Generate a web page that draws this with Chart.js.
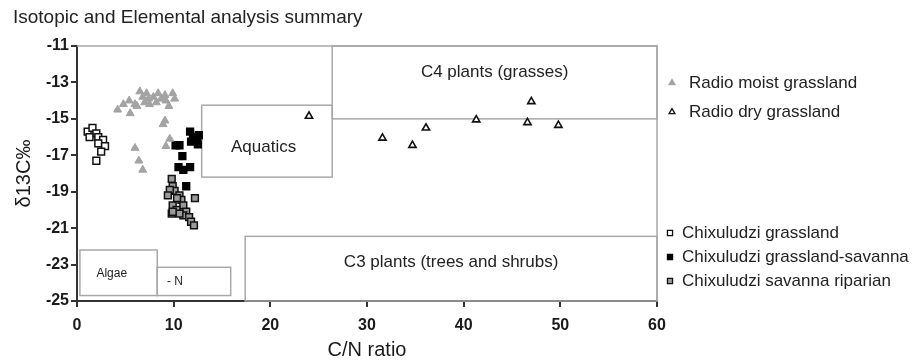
<!DOCTYPE html>
<html>
<head>
<meta charset="utf-8">
<script src="https://cdn.jsdelivr.net/npm/chart.js@4"></script>
<style>
  html,body{margin:0;padding:0;background:#fff;}
  canvas{display:block;}
</style>
</head>
<body>
<canvas id="c" width="918" height="362"></canvas>
<script>
// axis ticks
const xTicks = [0,10,20,30,40,50,60];
const yTicks = [-25,-23,-21,-19,-17,-15,-13,-11];

// Radio moist grassland
const moistX = [4.2,4.8,5.4,6.0,6.5,6.8,7.2,7.4,7.5,7.9,8.2,8.7,9.1,9.2,9.9,10.1,5.5,9.1,8.9,9.6,9.2,6.0,6.4,6.8,6.2,8.4,9.5,7.0];
const moistY = [-14.5,-14.2,-14.0,-14.2,-13.5,-13.8,-13.6,-13.9,-14.2,-13.8,-14.1,-13.9,-13.7,-14.0,-13.6,-13.9,-14.7,-15.1,-15.3,-16.1,-16.5,-16.6,-17.3,-17.8,-14.3,-13.6,-14.3,-14.1];
// Radio dry grassland
const dryX = [24.0,31.6,34.7,36.1,41.3,47.0,46.6,49.8];
const dryY = [-14.85,-16.05,-16.45,-15.5,-15.05,-14.05,-15.2,-15.35];
// Chixuludzi grassland
const grassX = [1.1,1.6,2.0,1.3,2.2,2.7,2.2,2.9,2.5,2.0];
const grassY = [-15.7,-15.5,-15.8,-16.0,-16.0,-16.15,-16.35,-16.5,-16.8,-17.3];
// Chixuludzi grassland-savanna
const savX = [11.7,12.0,12.4,12.5,11.8,10.2,10.6,10.9,10.5,11.0,11.7,11.3,12.6];
const savY = [-15.7,-16.0,-16.1,-16.4,-16.25,-16.45,-16.45,-17.05,-17.65,-17.8,-17.65,-18.7,-15.9];
// Chixuludzi savanna riparian
const ripX = [9.8,9.9,10.1,10.6,10.8,9.9,11.0,10.3,11.3,11.0,11.6,11.8,12.1,12.2,9.6,9.8,10.6,10.35,9.4,9.9];
const ripY = [-18.3,-18.7,-18.95,-19.2,-19.45,-19.75,-19.75,-20.0,-20.1,-20.3,-20.4,-20.65,-20.85,-19.35,-18.9,-20.2,-20.2,-19.35,-19.2,-20.1];

// reference regions [x0, x1, yBottom, yTop]
const regionNames = ['C4 plants (grasses)','Aquatics','C3 plants (trees and shrubs)','Algae','- N'];
const regionBounds = [
  [26.4,60,-15,-11],
  [12.9,26.4,-18.2,-14.25],
  [17.4,60,-25,-21.45],
  [0.3,8.3,-24.7,-22.2],
  [8.3,15.9,-24.7,-23.15]
];
// label anchor points (data units)
const regionLabelAt = [[43.2,-12.45],[19.3,-16.55],[38.7,-22.85],[3.6,-23.5],[9.3,-23.95]];

const legendNames = ['Radio moist grassland','Radio dry grassland','Chixuludzi grassland','Chixuludzi grassland-savanna','Chixuludzi savanna riparian'];

const pts = (xs,ys)=>xs.map((x,i)=>({x, y:ys[i]}));
const FONT = '"Liberation Sans", Arial, sans-serif';

const styles = [
  {pointStyle:'triangle', radius:4.6, backgroundColor:'#a3a3a3', borderColor:'#a3a3a3', borderWidth:1},
  {pointStyle:'triangle', radius:4.2, backgroundColor:'#fff', borderColor:'#111', borderWidth:1.6},
  {pointStyle:'rect', radius:4.8, backgroundColor:'#fff', borderColor:'#111', borderWidth:1.5},
  {pointStyle:'rect', radius:4.8, backgroundColor:'#000', borderColor:'#000', borderWidth:1.5},
  {pointStyle:'rect', radius:4.8, backgroundColor:'#9a9a9a', borderColor:'#111', borderWidth:1.5},
];
const series = [pts(moistX,moistY), pts(dryX,dryY), pts(grassX,grassY), pts(savX,savY), pts(ripX,ripY)];

const overlay = {
  id:'overlay',
  beforeDatasetsDraw(chart){
    const {ctx, scales:{x,y}} = chart;
    ctx.save();
    ctx.strokeStyle = '#a8a8a8';
    ctx.lineWidth = 1.5;
    // frame top and right
    ctx.beginPath();
    ctx.moveTo(x.getPixelForValue(0), y.getPixelForValue(-11));
    ctx.lineTo(x.getPixelForValue(60), y.getPixelForValue(-11));
    ctx.lineTo(x.getPixelForValue(60), y.getPixelForValue(-25));
    ctx.stroke();
    regionBounds.forEach(b=>{
      const l = x.getPixelForValue(b[0]), r = x.getPixelForValue(b[1]);
      const bt = y.getPixelForValue(b[2]), t = y.getPixelForValue(b[3]);
      ctx.strokeRect(l, t, r-l, bt-t);
    });
    ctx.fillStyle = '#222';
    ctx.textBaseline = 'middle';
    regionNames.forEach((n,i)=>{
      const small = i>=3;
      ctx.font = (small ? '12px ' : '17px ') + FONT;
      ctx.textAlign = i===4 ? 'left' : 'center';
      ctx.fillText(n, x.getPixelForValue(regionLabelAt[i][0]), y.getPixelForValue(regionLabelAt[i][1]));
    });
    ctx.restore();
  },
  afterDraw(chart){
    const {ctx} = chart;
    ctx.save();
    ctx.fillStyle = '#222';
    ctx.textBaseline = 'middle';
    ctx.textAlign = 'left';
    ctx.font = '19px ' + FONT;
    ctx.fillText('Isotopic and Elemental analysis summary', 13, 18);
    // legend
    const spots = [[672,83,689],[672,112,689],[670,233,682],[670,257,682],[670,281,682]];
    legendNames.forEach((n,i)=>{
      const st = styles[i];
      ctx.save();
      ctx.fillStyle = st.backgroundColor;
      ctx.strokeStyle = st.borderColor;
      ctx.lineWidth = 1.3;
      Chart.helpers.drawPoint(ctx, {pointStyle:st.pointStyle, radius: st.pointStyle==='rect'?3.6:3.4, rotation:0, borderWidth:1.3}, spots[i][0], spots[i][1]);
      ctx.restore();
      ctx.fillStyle = '#222';
      ctx.font = '17px ' + FONT;
      ctx.fillText(n, spots[i][2], spots[i][1]);
    });
    ctx.restore();
  }
};

new Chart(document.getElementById('c').getContext('2d'), {
  type:'scatter',
  data:{ datasets: series.map((d,i)=>Object.assign({label:legendNames[i], data:d, clip:false}, styles[i], {pointRadius:styles[i].radius})) },
  options:{
    responsive:false,
    animation:false,
    layout:{padding:{left:0, top:46, right:261, bottom:0}},
    plugins:{legend:{display:false}, tooltip:{enabled:false}},
    scales:{
      x:{
        type:'linear', min:0, max:60,
        afterBuildTicks: s=>{ s.ticks = xTicks.map(v=>({value:v})); },
        afterFit: s=>{ s.height = 61; },
        grid:{drawOnChartArea:false, drawTicks:true, tickLength:6, color:'#333', lineWidth:2},
        border:{color:'#333', width:2},
        ticks:{color:'#1a1a1a', padding:9, font:{family:FONT, size:16, weight:'bold'}},
        title:{display:true, text:'C/N ratio', color:'#1a1a1a', font:{family:FONT, size:20}, padding:{top:0,bottom:0}}
      },
      y:{
        type:'linear', min:-25, max:-11,
        afterBuildTicks: s=>{ s.ticks = yTicks.map(v=>({value:v})); },
        afterFit: s=>{ s.width = 77; },
        grid:{drawOnChartArea:false, drawTicks:true, tickLength:6, color:'#333', lineWidth:2},
        border:{color:'#333', width:2},
        ticks:{color:'#1a1a1a', padding:2, font:{family:FONT, size:16, weight:'bold'}},
        title:{display:true, text:'δ13C‰', color:'#1a1a1a', font:{family:FONT, size:20}, padding:{top:12,bottom:0}}
      }
    }
  },
  plugins:[overlay]
});
</script>
</body>
</html>
